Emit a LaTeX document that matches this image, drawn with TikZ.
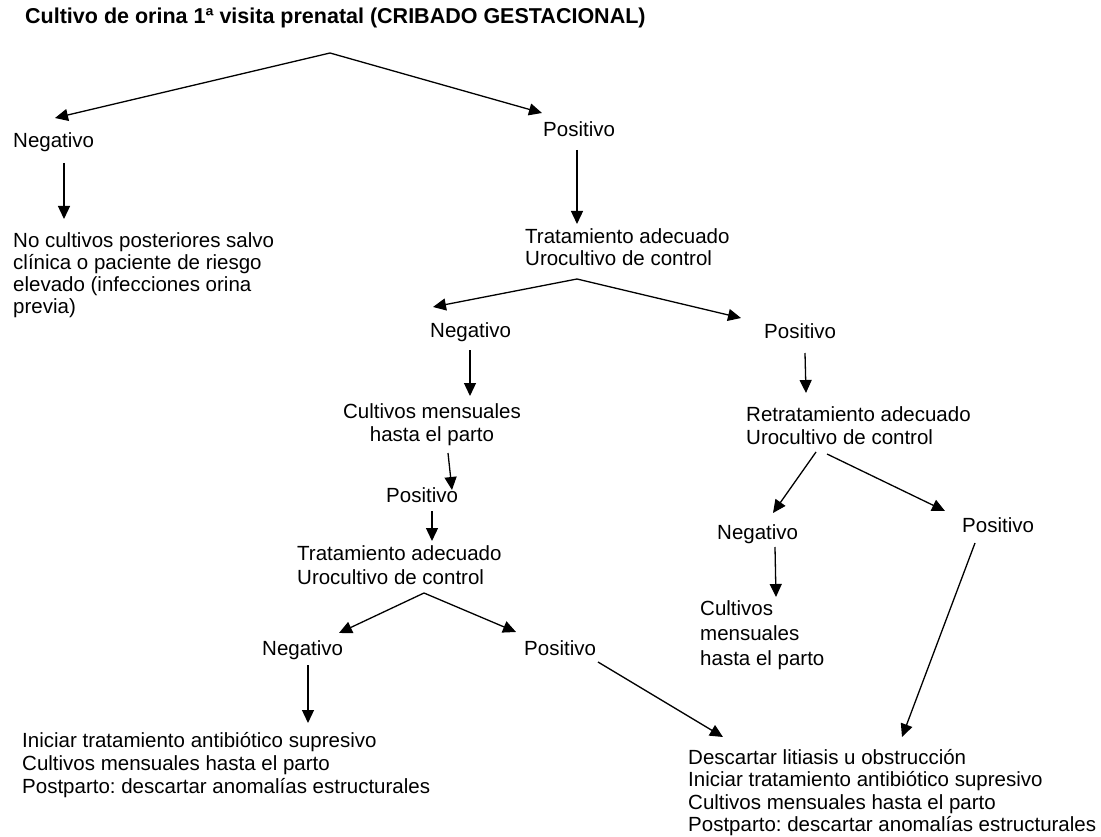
\documentclass[tikz,border=0pt]{standalone}
\usepackage{fontspec}
\setmainfont{Liberation Sans}
\frenchspacing
\usetikzlibrary{arrows.meta}
\tikzset{
  txt/.style={anchor=base west, inner sep=0pt, align=left, font=\fontsize{20.5}{23}\selectfont},
  arr/.style={line width=1.3pt, -{Triangle[length=13pt,width=12pt]}},
}
\begin{document}
\frenchspacing
\begin{tikzpicture}[x=1pt,y=-1pt]
\useasboundingbox[fill=white] (0,0) rectangle (1101,837);
% nodes (base anchor = baseline of the last line)
\node[txt, font=\fontsize{21.5}{24}\selectfont\bfseries] (title) at (25,24) {Cultivo de orina 1ª visita prenatal (CRIBADO GESTACIONAL)};
\node[txt] (neg1) at (13,148) {Negativo};
\node[txt] (pos1) at (543,137) {Positivo};
\node[txt, font=\fontsize{20.5}{22}\selectfont] (nocult) at (13,313) {No cultivos posteriores salvo\\clínica o paciente de riesgo\\elevado (infecciones orina\\previa)};
\node[txt, font=\fontsize{20.5}{22}\selectfont] (trat1) at (525,266) {Tratamiento adecuado\\Urocultivo de control};
\node[txt] (neg2) at (430,337) {Negativo};
\node[txt] (pos2) at (764,338) {Positivo};
\node[txt, anchor=base, align=center] (cult2) at (432,441) {Cultivos mensuales\\hasta el parto};
\node[txt] (pos3) at (386,502) {Positivo};
\node[txt, font=\fontsize{20.5}{24}\selectfont] (trat3) at (297,584) {Tratamiento adecuado\\Urocultivo de control};
\node[txt] (neg4) at (262,655) {Negativo};
\node[txt] (pos4) at (524,655) {Positivo};
\node[txt] (fin1) at (22,793) {Iniciar tratamiento antibiótico supresivo\\Cultivos mensuales hasta el parto\\Postparto: descartar anomalías estructurales};
\node[txt, font=\fontsize{20.5}{23.5}\selectfont] (retrat) at (746,444.5) {Retratamiento adecuado\\Urocultivo de control};
\node[txt] (neg5) at (717,539) {Negativo};
\node[txt] (pos5) at (962,532) {Positivo};
\node[txt, font=\fontsize{20.5}{25}\selectfont] (cult5) at (700,665) {Cultivos\\mensuales\\hasta el parto};
\node[txt, font=\fontsize{20.5}{22.5}\selectfont] (fin2) at (688,831.5) {Descartar litiasis u obstrucción\\Iniciar tratamiento antibiótico supresivo\\Cultivos mensuales hasta el parto\\Postparto: descartar anomalías estructurales};
% connector points
\coordinate (c0) at (330,53);
\coordinate (c0l) at (55,118);
\coordinate (c0r) at (542,113);
\coordinate (c1a) at (64,163);   \coordinate (c1b) at (64,219);
\coordinate (c2a) at (577,150);  \coordinate (c2b) at (577,224);
\coordinate (c3) at (577,279);
\coordinate (c3l) at (433,307);  \coordinate (c3r) at (741,318);
\coordinate (c4a) at (470,350);  \coordinate (c4b) at (470,396);
\coordinate (c5a) at (448,453);  \coordinate (c5b) at (452,490);
\coordinate (c6a) at (432,511);  \coordinate (c6b) at (432,541);
\coordinate (c7) at (424,593);
\coordinate (c7l) at (339,633);  \coordinate (c7r) at (516,632);
\coordinate (c8a) at (308,665);  \coordinate (c8b) at (308,723);
\coordinate (c9a) at (598,662);  \coordinate (c9b) at (723,737);
\coordinate (c10a) at (805,353); \coordinate (c10b) at (806,393);
\coordinate (c11a) at (816,452); \coordinate (c11b) at (773,513);
\coordinate (c12a) at (827,454); \coordinate (c12b) at (945,511);
\coordinate (c13a) at (775,547); \coordinate (c13b) at (776,597);
\coordinate (c14a) at (975,543); \coordinate (c14b) at (902,737);
% connectors
\draw[arr] (c0) -- (c0l);
\draw[arr] (c0) -- (c0r);
\draw[arr] (c1a) -- (c1b);
\draw[arr] (c2a) -- (c2b);
\draw[arr] (c3) -- (c3l);
\draw[arr] (c3) -- (c3r);
\draw[arr] (c4a) -- (c4b);
\draw[arr] (c5a) -- (c5b);
\draw[arr] (c6a) -- (c6b);
\draw[arr] (c7) -- (c7l);
\draw[arr] (c7) -- (c7r);
\draw[arr] (c8a) -- (c8b);
\draw[arr] (c9a) -- (c9b);
\draw[arr] (c10a) -- (c10b);
\draw[arr] (c11a) -- (c11b);
\draw[arr] (c12a) -- (c12b);
\draw[arr] (c13a) -- (c13b);
\draw[arr] (c14a) -- (c14b);
\end{tikzpicture}
\end{document}
